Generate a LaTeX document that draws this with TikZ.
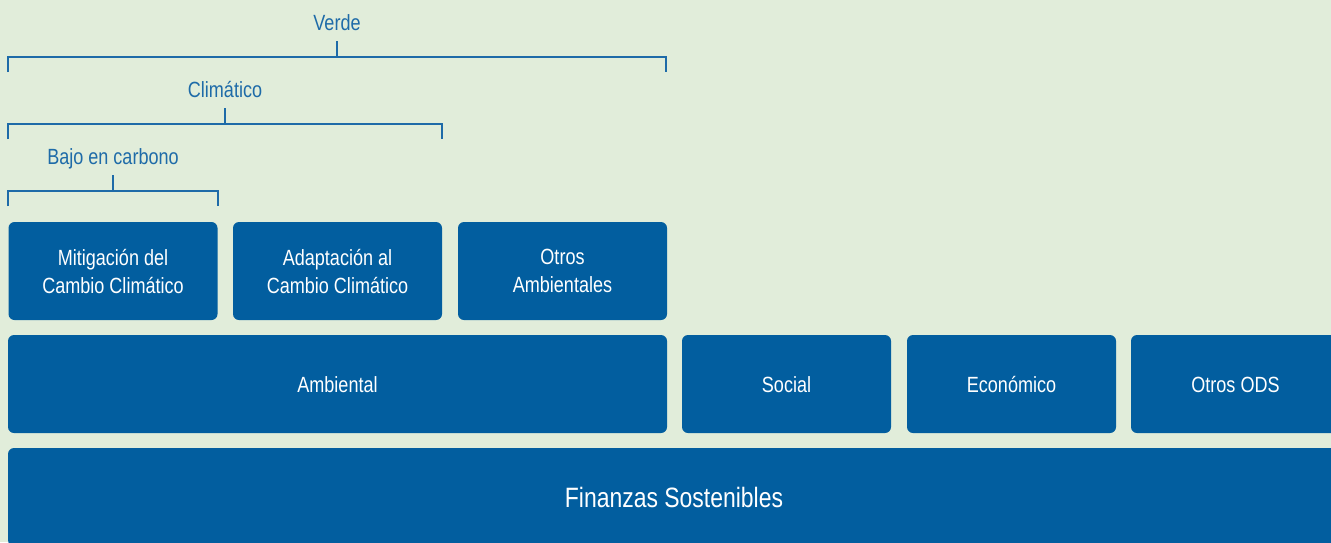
\documentclass[tikz,border=0pt]{standalone}
\usepackage{fontspec}
\setmainfont{Liberation Sans}[FakeStretch=0.82]
\definecolor{bg}{RGB}{225,237,218}
\definecolor{boxblue}{RGB}{2,94,159}
\definecolor{lineblue}{RGB}{30,107,168}
\tikzset{
  box/.style={draw=none, fill=boxblue, rounded corners=6pt, text=white, align=center,
    inner sep=0pt, font=\fontsize{22}{28}\selectfont},
  small/.style={box, minimum width=209pt, minimum height=98pt},
  oneline/.style={text height=17pt, text depth=0pt},
  lbl/.style={text=lineblue, inner sep=0pt, anchor=base, font=\fontsize{22}{28}\selectfont},
  brk/.style={draw=lineblue, line width=1.4pt},
}
\begin{document}
\begin{tikzpicture}[x=1pt,y=-1pt]
\useasboundingbox (0,0) rectangle (1331,542);
\fill[bg] (0,0) rectangle (1331,542);
\clip (0,0) rectangle (1331,542);
% top row
\node[small] (mit) at (113,271) {Mitigación del\\Cambio Climático};
\node[small] (ada) at (337.5,271) {Adaptación al\\Cambio Climático};
\node[small] (otr) at (562.5,271) {Otros\\Ambientales};
% middle row
\node[box, oneline, minimum width=659pt, minimum height=98pt] (amb) at (337.5,384) {Ambiental};
\node[small, oneline] (soc) at (786.5,384) {Social};
\node[small, oneline] (eco) at (1011.5,384) {Económico};
\node[small, oneline] (ods) at (1235.5,384) {Otros ODS};
% bottom
\node[box, minimum width=1332pt, minimum height=98pt, text height=21pt, text depth=0pt, font=\fontsize{28}{32}\selectfont] (fin) at (674,497) {Finanzas Sostenibles};
% brackets
\node[lbl] (verde) at (337,30) {Verde};
\node[lbl] (clim) at (225,97) {Climático};
\node[lbl] (bajo) at (113,164) {Bajo en carbono};
\coordinate (v) at (337,57);
\coordinate (c) at (225,124);
\coordinate (b) at (113,191);
\draw[brk] (verde.base) ++(0,11) -- (v);
\draw[brk] (clim.base) ++(0,11) -- (c);
\draw[brk] (bajo.base) ++(0,11) -- (b);
\draw[brk] (8,72) -- (8,57) -- (666,57) -- (666,72);
\draw[brk] (8,139) -- (8,124) -- (442,124) -- (442,139);
\draw[brk] (8,206) -- (8,191) -- (218,191) -- (218,206);
\end{tikzpicture}
\end{document}
